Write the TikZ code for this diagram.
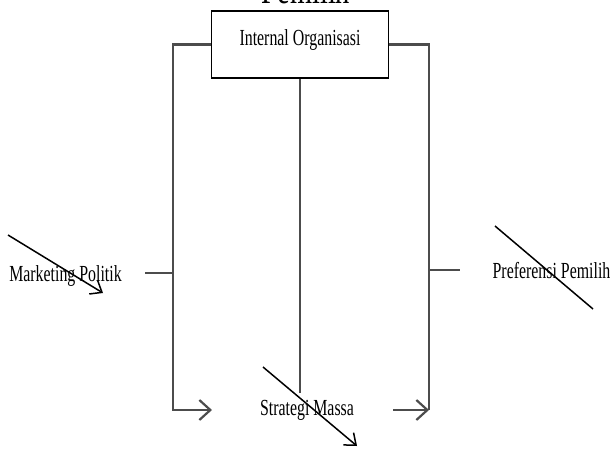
\documentclass[tikz,border=0pt]{standalone}
\usepackage{fontspec}
\setmainfont{Liberation Serif}[FakeStretch=0.69]
\usepackage{tikz}
\usetikzlibrary{arrows.meta}

\begin{document}
\begin{tikzpicture}[x=1pt,y=-1pt,thick]
\tikzstyle{box}=[draw,line width=1.5pt,minimum width=177pt,minimum height=67pt,inner sep=0pt,text depth=13pt]
\tikzstyle{lbl}=[inner sep=0pt,font=\fontsize{23}{27}\selectfont]
\tikzstyle{link}=[draw=black!70,line width=2.2pt]
\tikzstyle{cross}=[draw=black,line width=1.5pt]
\useasboundingbox (0,0) rectangle (612,450);
\node[inner sep=0pt,anchor=base,font=\fontsize{41}{45}\selectfont] (pem) at (306,3) {Pemilih};
\node[box,lbl] (org) at (300,44.5) {Internal Organisasi};
\node[lbl] (mp) at (65.5,276) {Marketing Politik};
\node[lbl] (pp) at (551.5,271) {Preferensi Pemilih};
\node[lbl] (sm) at (307,410) {Strategi Massa};
% bracket corners
\coordinate (ltop) at (173,44.5);
\coordinate (lend) at (212,410);
\coordinate (rbot) at (429,410);
\coordinate (rin) at (393,410);
\coordinate (cbot) at (300,393);
\coordinate (lstub) at (145,273);
\coordinate (lmid) at (173,273);
\coordinate (rmid) at (429,270);
\coordinate (rstub) at (460,270);
\draw[link,-{Straight Barb[length=11pt,width=20pt]}] (org.west) -- (ltop) |- (lend);
\draw[link] (org.east) -| (rbot);
\draw[link,-{Straight Barb[length=11pt,width=20pt]}] (rin) -- (rbot);
\draw[link] (org.south) -- (cbot);
\draw[link] (lstub) -- (lmid);
\draw[link] (rmid) -- (rstub);
% diagonal strokes
\coordinate (d1a) at (8,235);
\coordinate (d1b) at (103,293);
\coordinate (d2a) at (263,367);
\coordinate (d2b) at (357,446);
\coordinate (d3a) at (495,226);
\coordinate (d3b) at (593,309);
\draw[cross,-{Straight Barb[length=10pt,width=16pt]}] (d1a) -- (d1b);
\draw[cross,-{Straight Barb[length=10pt,width=16pt]}] (d2a) -- (d2b);
\draw[cross] (d3a) -- (d3b);
\end{tikzpicture}
\end{document}
